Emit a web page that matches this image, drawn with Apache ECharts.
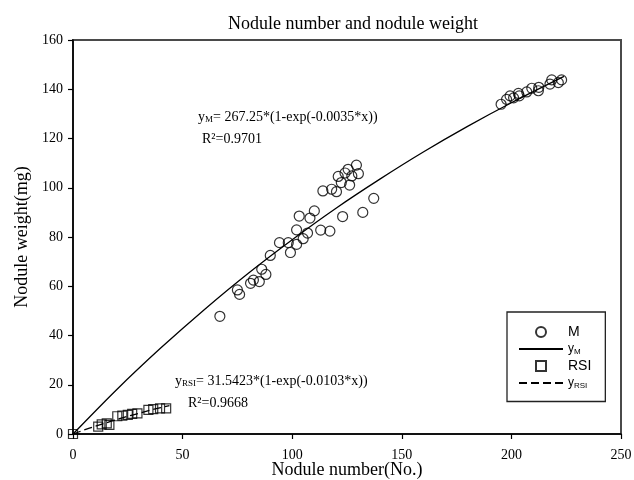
<!DOCTYPE html>
<html>
<head>
<meta charset="utf-8">
<script src="https://cdn.jsdelivr.net/npm/echarts@6/dist/echarts.min.js"></script>
<style>
  html, body { margin: 0; padding: 0; background: #fff; }
  #chart { width: 634px; height: 480px; }
</style>
</head>
<body>
<div id="chart"></div>
<script>
// M: nodule number / nodule weight
var mNumber = [67, 75, 76, 81, 82.3, 85, 86.1, 88, 90, 94.2, 98.2, 99.2, 102, 102, 103.2, 105, 107, 108.1, 110.1,
    113, 117.2, 114, 118, 120.2, 121, 122.4, 124.1, 125.5, 126.2, 127.2, 129.3, 130.2, 123, 132.2, 137.2,
    195.3, 197.8, 199.4, 201, 203.2, 203.6, 207, 209.3, 212.3, 212.5, 217.6, 218.4, 221.4, 222.9];
var mWeight = [47.8, 58.5, 56.7, 61.2, 62.5, 61.9, 66.9, 64.8, 72.5, 77.7, 77.7, 73.7, 77, 82.9, 88.5, 79.3, 81.6, 87.7, 90.6,
    82.8, 82.4, 98.7, 99.4, 98.4, 104.6, 102.1, 106, 107.5, 101.1, 104.8, 109.2, 105.7, 88.3, 90, 95.7,
    133.9, 135.9, 137.3, 136.5, 138.3, 137.3, 138.9, 140.4, 139.4, 140.8, 142.1, 143.8, 142.7, 143.8];

// RSI
var rsiNumber = [0, 11.5, 13.1, 15.4, 16.6, 20.2, 22.5, 25, 27, 29.4, 34.4, 36.6, 39.7, 42.5];
var rsiWeight = [0, 3.0, 3.9, 4.3, 3.7, 7.2, 7.5, 7.8, 8.2, 8.4, 9.8, 10.1, 10.4, 10.4];

// fitted curves
var fitMX = [0, 20, 40, 60, 80, 100, 120, 140, 160, 180, 200, 224];
var fitMY = [0, 18.1, 34.9, 50.6, 65.3, 78.9, 91.7, 103.5, 114.6, 124.9, 134.5, 145.2];
var fitRX = [0, 5, 10, 15, 20, 25, 30, 35, 40, 44];
var fitRY = [0, 1.6, 3.1, 4.5, 5.9, 7.2, 8.4, 9.6, 10.7, 11.5];

var xTicks = [0, 50, 100, 150, 200, 250];
var yTicks = [0, 20, 40, 60, 80, 100, 120, 140, 160];

function pairs(xs, ys) {
    var out = [];
    for (var i = 0; i < xs.length; i++) out.push([xs[i], ys[i]]);
    return out;
}

var serif = 'Liberation Serif';
var sans = 'Liberation Sans';
var clear = 'rgba(255,255,255,0)';

function chart_option() {
    var option = {
        animation: false,
        backgroundColor: '#fff',
        title: {
            text: 'Nodule number and nodule weight',
            left: 348,
            top: 10,
            textAlign: 'center',
            textStyle: { fontFamily: serif, fontSize: 18, fontWeight: 'normal', color: '#000' }
        },
        grid: {
            left: 73, right: 13, top: 40, bottom: 46,
            outerBoundsMode: 'none',
            containLabel: false,
            show: true, borderColor: '#4a4a4a', borderWidth: 2
        },
        xAxis: {
            type: 'value',
            min: xTicks[0], max: xTicks[xTicks.length - 1], interval: 50,
            name: 'Nodule number(No.)',
            nameLocation: 'middle',
            nameGap: 27,
            nameMoveOverlap: false,
            nameTextStyle: { fontFamily: serif, fontSize: 18, color: '#000' },
            axisLine: { onZero: false, lineStyle: { color: '#000', width: 1.5 } },
            axisTick: { show: true, inside: false, length: 5, lineStyle: { color: '#000', width: 1.2 } },
            axisLabel: { margin: 14, fontFamily: serif, fontSize: 14, color: '#000' },
            splitLine: { show: false }
        },
        yAxis: {
            type: 'value',
            min: yTicks[0], max: yTicks[yTicks.length - 1], interval: 20,
            name: 'Nodule weight(mg)',
            nameLocation: 'middle',
            nameGap: 42,
            nameMoveOverlap: false,
            nameTextStyle: { fontFamily: serif, fontSize: 18, color: '#000' },
            axisLine: { show: true, onZero: false, lineStyle: { color: '#000', width: 1.5 } },
            axisTick: { show: true, inside: false, length: 5, lineStyle: { color: '#000', width: 1.2 } },
            axisLabel: { margin: 10, fontFamily: serif, fontSize: 14, color: '#000' },
            splitLine: { show: false }
        },
        legend: {
            orient: 'vertical',
            left: 507, top: 312,
            padding: [13, 14, 12, 11],
            borderColor: '#222', borderWidth: 1.3,
            itemWidth: 44, itemHeight: 10, itemGap: 3.5,
            symbolKeepAspect: true,
            data: [
                { name: 'M' },
                { name: 'yM' },
                { name: 'RSI', icon: 'path://M0,0H10V10H0Z' },
                { name: 'yRSI' }
            ],
            formatter: function (name) {
                if (name === 'yM') return '{y|y}{s|M}';
                if (name === 'yRSI') return '{y|y}{s|RSI}';
                return '{n|' + name + '}';
            },
            textStyle: {
                color: '#000',
                rich: {
                    n: { fontFamily: sans, fontSize: 14, lineHeight: 16, color: '#000' },
                    y: { fontFamily: sans, fontSize: 12, lineHeight: 16, color: '#000' },
                    s: { fontFamily: sans, fontSize: 8, lineHeight: 16, padding: [5, 0, 0, 0], color: '#000' }
                }
            }
        },
        graphic: [
            {
                type: 'text', x: 198, y: 117,
                style: {
                    text: '{y|y}{s|M}{y|= 267.25*(1-exp(-0.0035*x))}',
                    verticalAlign: 'middle',
                    rich: {
                        y: { fontFamily: serif, fontSize: 14, fill: '#000' },
                        s: { fontFamily: serif, fontSize: 9, fill: '#000', padding: [6, 0, 0, 0] }
                    }
                }
            },
            {
                type: 'text', x: 202, y: 139,
                style: { text: 'R²=0.9701', verticalAlign: 'middle', font: '14px ' + serif, fill: '#000' }
            },
            {
                type: 'text', x: 175, y: 381,
                style: {
                    text: '{y|y}{s|RSI}{y|= 31.5423*(1-exp(-0.0103*x))}',
                    verticalAlign: 'middle',
                    rich: {
                        y: { fontFamily: serif, fontSize: 14, fill: '#000' },
                        s: { fontFamily: serif, fontSize: 9, fill: '#000', padding: [6, 0, 0, 0] }
                    }
                }
            },
            {
                type: 'text', x: 188, y: 403,
                style: { text: 'R²=0.9668', verticalAlign: 'middle', font: '14px ' + serif, fill: '#000' }
            }
        ],
        series: [
            {
                name: 'M', type: 'scatter',
                symbol: 'circle', symbolSize: 10,
                itemStyle: { color: clear, borderColor: '#000', borderWidth: 1.2 },
                data: pairs(mNumber, mWeight),
                z: 3
            },
            {
                name: 'yM', type: 'line',
                symbol: 'none', smooth: 0.3,
                lineStyle: { color: '#000', width: 1.3 },
                itemStyle: { color: clear, borderWidth: 0 },
                data: pairs(fitMX, fitMY),
                z: 2
            },
            {
                name: 'RSI', type: 'scatter',
                symbol: 'rect', symbolSize: 9,
                itemStyle: { color: clear, borderColor: '#000', borderWidth: 1.2 },
                data: pairs(rsiNumber, rsiWeight),
                z: 3
            },
            {
                name: 'yRSI', type: 'line',
                symbol: 'none', smooth: 0.3,
                lineStyle: { color: '#000', width: 1.3, type: [8, 4] },
                itemStyle: { color: clear, borderWidth: 0 },
                data: pairs(fitRX, fitRY),
                z: 2
            }
        ]
    };
    return option;
}

var myChart = echarts.init(document.getElementById('chart'), null, { renderer: 'canvas' });
myChart.setOption(chart_option());
</script>
</body>
</html>
